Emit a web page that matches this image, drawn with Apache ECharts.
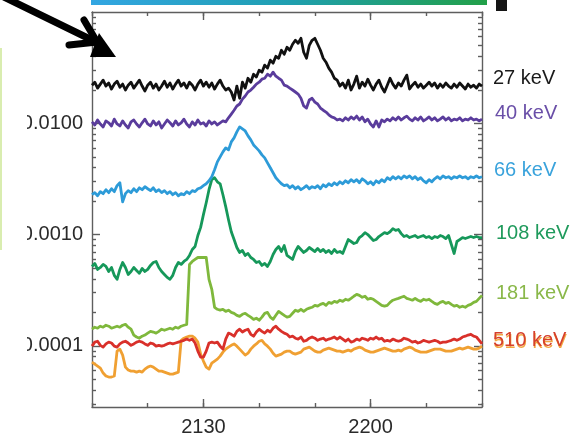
<!DOCTYPE html>
<html>
<head>
<meta charset="utf-8">
<script src="https://cdn.jsdelivr.net/npm/echarts@6/dist/echarts.min.js"></script>
<style>
  html, body { margin: 0; padding: 0; background: #ffffff; }
  #chart { width: 577px; height: 437px; }
</style>
</head>
<body>
<div id="chart"></div>
<script>
// Time grid: minutes after 21:00, sampled every half minute from 21:10 to 22:20
const timeStart = 10;
const timeStep = 0.5;

// Differential flux per energy channel
const flux27 = [
  0.0220,0.0234,0.0207,0.0225,0.0244,0.0216,0.0230,0.0203,0.0225,0.0239,
  0.0211,0.0225,0.0199,0.0220,0.0234,0.0207,0.0225,0.0244,0.0216,0.0195,
  0.0220,0.0234,0.0207,0.0225,0.0199,0.0216,0.0239,0.0211,0.0230,0.0203,
  0.0225,0.0244,0.0216,0.0230,0.0207,0.0234,0.0220,0.0199,0.0225,0.0244,
  0.0216,0.0234,0.0211,0.0230,0.0203,0.0225,0.0244,0.0216,0.0199,0.0207,
  0.0191,0.0162,0.0216,0.0168,0.0234,0.0207,0.0254,0.0234,0.0276,0.0260,
  0.0300,0.0288,0.0333,0.0313,0.0369,0.0347,0.0400,0.0384,0.0453,0.0417,
  0.0482,0.0453,0.0513,0.0557,0.0524,0.0580,0.0435,0.0384,0.0502,0.0557,
  0.0580,0.0513,0.0453,0.0384,0.0354,0.0313,0.0288,0.0254,0.0244,0.0216,
  0.0230,0.0207,0.0244,0.0199,0.0225,0.0265,0.0207,0.0234,0.0216,0.0249,
  0.0220,0.0199,0.0225,0.0244,0.0211,0.0191,0.0220,0.0254,0.0225,0.0207,
  0.0230,0.0216,0.0244,0.0271,0.0203,0.0220,0.0234,0.0211,0.0225,0.0207,
  0.0220,0.0234,0.0216,0.0230,0.0207,0.0225,0.0211,0.0230,0.0216,0.0207,
  0.0225,0.0211,0.0230,0.0216,0.0203,0.0225,0.0211,0.0220,0.0207,0.0225,0.0216
];
const flux40 = [
  0.0103,0.00966,0.0107,0.00986,0.00927,0.0105,0.0101,0.00946,0.0109,0.00986,
  0.00946,0.0105,0.00966,0.00908,0.0103,0.0107,0.00986,0.00927,0.0101,0.0109,
  0.00986,0.00946,0.0105,0.00966,0.0103,0.00908,0.00986,0.0107,0.0101,0.00946,
  0.0105,0.00966,0.0101,0.0109,0.00986,0.00927,0.0103,0.00966,0.0107,0.00986,
  0.0101,0.00946,0.0105,0.00986,0.0103,0.00966,0.0101,0.0105,0.0103,0.0112,
  0.0121,0.0131,0.0143,0.0149,0.0165,0.0176,0.0191,0.0199,0.0211,0.0225,
  0.0234,0.0249,0.0254,0.0276,0.0265,0.0288,0.0265,0.0254,0.0244,0.0220,
  0.0216,0.0207,0.0199,0.0191,0.0183,0.0168,0.0143,0.0137,0.0162,0.0168,
  0.0155,0.0149,0.0137,0.0131,0.0126,0.0119,0.0114,0.0112,0.0107,0.0109,
  0.0105,0.0112,0.0107,0.0114,0.0109,0.0116,0.0107,0.0114,0.0103,0.0109,
  0.00986,0.00927,0.0105,0.00927,0.0107,0.0103,0.0109,0.0105,0.0112,0.0107,
  0.0114,0.0107,0.0112,0.0116,0.0109,0.0105,0.0112,0.0107,0.0114,0.0105,
  0.0109,0.0114,0.0107,0.0112,0.0105,0.0109,0.0114,0.0107,0.0112,0.0105,
  0.0109,0.0107,0.0112,0.0105,0.0109,0.0107,0.0112,0.0107,0.0109,0.0105,0.0109
];
const flux66 = [
  0.00228,0.00238,0.00223,0.00243,0.00233,0.00253,0.00238,0.00258,0.00243,0.00275,
  0.00292,0.00197,0.00233,0.00248,0.00238,0.00258,0.00243,0.00263,0.00253,0.00269,
  0.00258,0.00248,0.00263,0.00243,0.00253,0.00238,0.00248,0.00233,0.00243,0.00228,
  0.00238,0.00223,0.00233,0.00228,0.00243,0.00233,0.00248,0.00243,0.00258,0.00263,
  0.00275,0.00286,0.00304,0.00331,0.00382,0.00450,0.00499,0.00553,0.00601,0.00577,
  0.00680,0.00739,0.00836,0.00927,0.00889,0.00853,0.00770,0.00709,0.00639,0.00601,
  0.00565,0.00520,0.00489,0.00441,0.00398,0.00359,0.00324,0.00304,0.00286,0.00275,
  0.00280,0.00263,0.00275,0.00258,0.00269,0.00253,0.00263,0.00275,0.00258,0.00269,
  0.00263,0.00275,0.00258,0.00280,0.00269,0.00286,0.00275,0.00292,0.00280,0.00298,
  0.00286,0.00304,0.00292,0.00311,0.00298,0.00311,0.00292,0.00317,0.00304,0.00286,
  0.00298,0.00280,0.00304,0.00292,0.00311,0.00298,0.00324,0.00311,0.00331,0.00317,
  0.00331,0.00317,0.00337,0.00324,0.00337,0.00317,0.00331,0.00311,0.00324,0.00304,
  0.00292,0.00311,0.00298,0.00317,0.00331,0.00317,0.00337,0.00324,0.00331,0.00317,
  0.00331,0.00324,0.00337,0.00324,0.00331,0.00317,0.00331,0.00324,0.00337,0.00324,0.00331
];
const flux108 = [
  0.000517,0.000550,0.000486,0.000506,0.000539,0.000517,0.000466,0.000506,0.000430,0.000396,
  0.000486,0.000561,0.000506,0.000438,0.000466,0.000506,0.000476,0.000448,0.000496,0.000466,
  0.000486,0.000528,0.000561,0.000573,0.000506,0.000466,0.000438,0.000412,0.000396,0.000430,
  0.000506,0.000561,0.000539,0.000573,0.000597,0.000649,0.000734,0.000781,0.000980,0.00116,
  0.00151,0.00193,0.00253,0.00311,0.00324,0.00298,0.00286,0.00228,0.00178,0.00136,
  0.00106,0.000902,0.000765,0.000690,0.000719,0.000649,0.000676,0.000622,0.000597,0.000561,
  0.000573,0.000528,0.000550,0.000517,0.000573,0.000662,0.000734,0.000781,0.000704,0.000797,
  0.000649,0.000622,0.000597,0.000704,0.000781,0.000734,0.000690,0.000719,0.000765,0.000734,
  0.000704,0.000749,0.000704,0.000734,0.000690,0.000719,0.000676,0.000734,0.000690,0.000704,
  0.000676,0.000781,0.000902,0.000866,0.000831,0.000848,0.000940,0.000980,0.00104,0.00100,
  0.000940,0.000884,0.000902,0.000960,0.00100,0.00104,0.00102,0.00106,0.00113,0.00109,
  0.00111,0.00102,0.000960,0.000980,0.000940,0.000960,0.000980,0.000940,0.000960,0.000980,
  0.000940,0.000960,0.000921,0.000960,0.000940,0.000980,0.000960,0.000921,0.000980,0.000814,
  0.000676,0.000866,0.000902,0.000940,0.000921,0.000940,0.000960,0.000940,0.000960,0.000940,0.000940
];
const flux181 = [
  0.000141,0.000147,0.000144,0.000150,0.000147,0.000153,0.000150,0.000144,0.000147,0.000150,
  0.000147,0.000153,0.000156,0.000147,0.000141,0.000125,0.000120,0.000117,0.000122,0.000125,
  0.000130,0.000135,0.000133,0.000130,0.000135,0.000141,0.000138,0.000141,0.000144,0.000141,
  0.000147,0.000144,0.000150,0.000153,0.000156,0.000539,0.000573,0.000597,0.000622,0.000622,
  0.000622,0.000622,0.000396,0.000322,0.000222,0.000213,0.000209,0.000213,0.000204,0.000209,
  0.000200,0.000196,0.000188,0.000184,0.000192,0.000196,0.000188,0.000181,0.000173,0.000177,
  0.000170,0.000181,0.000196,0.000200,0.000181,0.000173,0.000188,0.000204,0.000196,0.000188,
  0.000181,0.000184,0.000196,0.000209,0.000204,0.000213,0.000204,0.000213,0.000218,0.000222,
  0.000231,0.000227,0.000236,0.000241,0.000231,0.000246,0.000241,0.000251,0.000246,0.000257,
  0.000251,0.000262,0.000257,0.000267,0.000279,0.000290,0.000284,0.000273,0.000279,0.000262,
  0.000267,0.000262,0.000251,0.000241,0.000231,0.000227,0.000231,0.000246,0.000257,0.000262,
  0.000267,0.000273,0.000279,0.000267,0.000262,0.000257,0.000267,0.000257,0.000251,0.000262,
  0.000257,0.000262,0.000251,0.000241,0.000236,0.000246,0.000251,0.000241,0.000246,0.000236,
  0.000227,0.000231,0.000222,0.000227,0.000222,0.000231,0.000236,0.000246,0.000251,0.000267,0.000284
];
const flux510a = [
  0.0000993,0.000108,0.000110,0.000101,0.0000973,0.000104,0.000108,0.000106,0.0000993,0.0000973,
  0.000104,0.000108,0.000110,0.000106,0.000101,0.000104,0.000108,0.000110,0.000108,0.000104,
  0.000101,0.000106,0.000104,0.0000993,0.000101,0.0000993,0.000101,0.000104,0.000106,0.000104,
  0.000106,0.000108,0.000110,0.000112,0.000115,0.000112,0.000115,0.000106,0.0000896,0.0000792,
  0.0000792,0.0000896,0.000106,0.000108,0.000106,0.000108,0.0000993,0.0000934,0.000115,0.000130,
  0.000127,0.000122,0.000135,0.000141,0.000133,0.000138,0.000141,0.000127,0.000122,0.000133,
  0.000141,0.000135,0.000130,0.000138,0.000133,0.000144,0.000150,0.000141,0.000135,0.000130,
  0.000127,0.000120,0.000122,0.000117,0.000115,0.000120,0.000110,0.000112,0.000117,0.000120,
  0.000117,0.000112,0.000115,0.000117,0.000112,0.000115,0.000117,0.000120,0.000115,0.000120,
  0.000115,0.000110,0.000115,0.000108,0.000110,0.000115,0.000112,0.000117,0.000115,0.000112,
  0.000117,0.000115,0.000120,0.000115,0.000117,0.000110,0.000112,0.000110,0.000115,0.000112,
  0.000110,0.000112,0.000117,0.000115,0.000112,0.000108,0.000110,0.000106,0.000108,0.000112,
  0.000110,0.000108,0.000110,0.000112,0.000110,0.000106,0.000108,0.000108,0.000110,0.000112,
  0.000115,0.000112,0.000115,0.000120,0.000122,0.000125,0.000127,0.000122,0.000120,0.000112,0.000104
];
const flux510b = [
  0.0000714,0.0000685,0.0000658,0.0000631,0.0000569,0.0000535,0.0000524,0.0000524,0.0000535,0.0000896,
  0.0000934,0.0000825,0.0000644,0.0000606,0.0000593,0.0000593,0.0000581,0.0000593,0.0000581,0.0000618,
  0.0000644,0.0000658,0.0000644,0.0000618,0.0000593,0.0000593,0.0000581,0.0000569,0.0000557,0.0000557,
  0.0000569,0.0000581,0.000112,0.000117,0.000120,0.000122,0.000122,0.000117,0.000108,0.0000842,
  0.0000729,0.0000644,0.0000618,0.0000699,0.0000729,0.0000760,0.0000808,0.0000877,0.0000934,0.0000973,
  0.000101,0.000104,0.0000993,0.0000934,0.0000877,0.0000825,0.0000859,0.0000934,0.0000993,0.000104,
  0.000110,0.000112,0.000104,0.0000993,0.0000934,0.0000859,0.0000808,0.0000825,0.0000842,0.0000877,
  0.0000896,0.0000896,0.0000859,0.0000842,0.0000859,0.0000877,0.0000934,0.0000953,0.0000973,0.0000934,
  0.0000896,0.0000877,0.0000877,0.0000915,0.0000934,0.0000953,0.0000934,0.0000915,0.0000896,0.0000896,
  0.0000877,0.0000896,0.0000915,0.0000896,0.0000934,0.0000953,0.0000973,0.0000953,0.0000915,0.0000896,
  0.0000877,0.0000877,0.0000896,0.0000915,0.0000934,0.0000953,0.0000934,0.0000915,0.0000896,0.0000896,
  0.0000915,0.0000896,0.0000934,0.0000953,0.0000973,0.0000953,0.0000915,0.0000896,0.0000877,0.0000877,
  0.0000877,0.0000896,0.0000915,0.0000934,0.0000934,0.0000934,0.0000915,0.0000896,0.0000896,0.0000896,
  0.0000915,0.0000934,0.0000953,0.0000934,0.0000953,0.0000973,0.0000953,0.0000934,0.0000934,0.0000953,0.0000993
];

// Channel names and colours, drawn bottom-up so low energies sit on top
const channelNames  = ['510 keV', '510 keV', '181 keV', '108 keV', '66 keV', '40 keV', '27 keV'];
const channelData   = [flux510b, flux510a, flux181, flux108, flux66, flux40, flux27];
const channelColors = ['#f0a032', '#d9302a', '#7fb83c', '#16985a', '#2d9bd8', '#5a3c9c', '#111111'];

// Axis ticks
const yMajorTicks = [0.0001, 0.001, 0.01];
const xMajorTicks = [30, 60];
const xTickLabels = { 30: '2130', 60: '2200' };
const yMin = 2.82e-5, yMax = 0.1;
const xMin = 10, xMax = 80, xInterval = 10;

// Log minor ticks (2..9 per decade) inside the axis range
const yMinorTicks = [];
for (let e = -5; e <= -2; e++) {
  for (let m = 2; m <= 9; m++) {
    const v = m * Math.pow(10, e);
    if (v > yMin && v < yMax) yMinorTicks.push(v);
  }
}

const FONT = '"Liberation Sans", Arial, Helvetica, sans-serif';
const AXIS_COLOR = '#5e5e5e';

function logAxis(position, ticks, len, withLine, withLabels) {
  return {
    type: 'log', logBase: 10, min: yMin, max: yMax, position: position,
    axisLine: { show: withLine, lineStyle: { color: AXIS_COLOR, width: 1.4 } },
    axisTick: { show: true, inside: true, length: len, customValues: ticks,
                lineStyle: { color: AXIS_COLOR, width: 1.4 } },
    minorTick: { show: false },
    axisLabel: withLabels ? {
      show: true, customValues: yMajorTicks, margin: 9,
      fontFamily: FONT, fontSize: 20, color: '#2a2a2a',
      formatter: v => Number(v).toFixed(4)
    } : { show: false },
    splitLine: { show: false }
  };
}

function timeAxis(position, ticks, len, withLine, withLabels) {
  const tick = { show: true, inside: true, length: len, lineStyle: { color: AXIS_COLOR, width: 1.4 } };
  if (ticks) tick.customValues = ticks;
  return {
    type: 'value', min: xMin, max: xMax, interval: xInterval, position: position,
    axisLine: { show: withLine, onZero: false, lineStyle: { color: AXIS_COLOR, width: 1.4 } },
    axisTick: tick,
    axisLabel: withLabels ? {
      show: true, margin: 10, fontFamily: FONT, fontSize: 20, color: '#2a2a2a',
      formatter: v => xTickLabels[v] || ''
    } : { show: false },
    splitLine: { show: false }
  };
}

const series = channelData.map((arr, k) => ({
  type: 'line',
  name: channelNames[k],
  xAxisIndex: 0, yAxisIndex: 0,
  showSymbol: false,
  symbol: 'none',
  clip: true,
  lineStyle: { color: channelColors[k], width: 2.8, join: 'round' },
  data: arr.map((v, i) => [timeStart + i * timeStep, v]),
  z: 2 + k
}));

// Channel labels at the right edge
const labelSpecs = [
  { text: '27 keV',  x: 493, y: 78,  color: '#1a1a1a' },
  { text: '40 keV',  x: 495, y: 113, color: '#6a4fa8' },
  { text: '66 keV',  x: 494, y: 170, color: '#3aa3dc' },
  { text: '108 keV', x: 496, y: 233, color: '#1f9a5c' },
  { text: '181 keV', x: 496, y: 293, color: '#8ab84a' },
  { text: '510 keV', x: 493.5, y: 342.5, color: '#f2a541' },
  { text: '510 keV', x: 493, y: 340, color: '#d6402c' }
];

const graphics = [
  // colour bar of the panel above
  { type: 'rect', shape: { x: 91, y: 0, width: 396, height: 5 },
    style: { fill: new echarts.graphic.LinearGradient(0, 0, 1, 0, [
      { offset: 0, color: '#33a6e2' }, { offset: 0.5, color: '#1f9fb0' }, { offset: 1, color: '#22a048' }]) },
    z: 50 },
  { type: 'rect', shape: { x: 496, y: 0, width: 11, height: 11 }, style: { fill: '#151515' }, z: 50 },
  // edge of the neighbouring panel on the left
  { type: 'line', shape: { x1: 1, y1: 48, x2: 1, y2: 250 },
    style: { stroke: '#d9edb0', lineWidth: 2 }, z: 50 },
  // trim the leading digit of the y tick labels
  { type: 'rect', shape: { x: 3, y: 95, width: 24, height: 270 }, style: { fill: '#ffffff' }, z: 60 },
  // pointer arrow and onset marker
  { type: 'line', shape: { x1: 4, y1: -3, x2: 96, y2: 42 },
    style: { stroke: '#000', lineWidth: 7, lineCap: 'round' }, z: 70 },
  { type: 'polyline', shape: { points: [[84, 20], [97, 42], [69, 45]] },
    style: { stroke: '#000', lineWidth: 7, lineCap: 'round', lineJoin: 'round', fill: null }, z: 70 },
  { type: 'polygon', shape: { points: [[99, 33], [90, 57], [116, 57]] },
    style: { fill: '#000' }, z: 70 }
].concat(labelSpecs.map(s => ({
  type: 'text', x: s.x, y: s.y, z: 80,
  style: { text: s.text, fill: s.color, font: '20px ' + FONT, textVerticalAlign: 'middle', verticalAlign: 'middle' }
})));

const chart = echarts.init(document.getElementById('chart'), null, { renderer: 'canvas' });
chart.setOption({
  backgroundColor: '#ffffff',
  animation: false,
  grid: { left: 92, right: 95, top: 12, bottom: 29, containLabel: false },
  xAxis: [
    timeAxis('bottom', null, 4, true, true),
    timeAxis('bottom', xMajorTicks, 8, false, false),
    timeAxis('top', null, 4, true, false),
    timeAxis('top', xMajorTicks, 8, false, false)
  ],
  yAxis: [
    logAxis('left', yMajorTicks, 8, true, true),
    logAxis('left', yMinorTicks, 4, false, false),
    logAxis('right', yMajorTicks, 8, true, false),
    logAxis('right', yMinorTicks, 4, false, false)
  ],
  series: series,
  graphic: graphics
});
</script>
</body>
</html>
